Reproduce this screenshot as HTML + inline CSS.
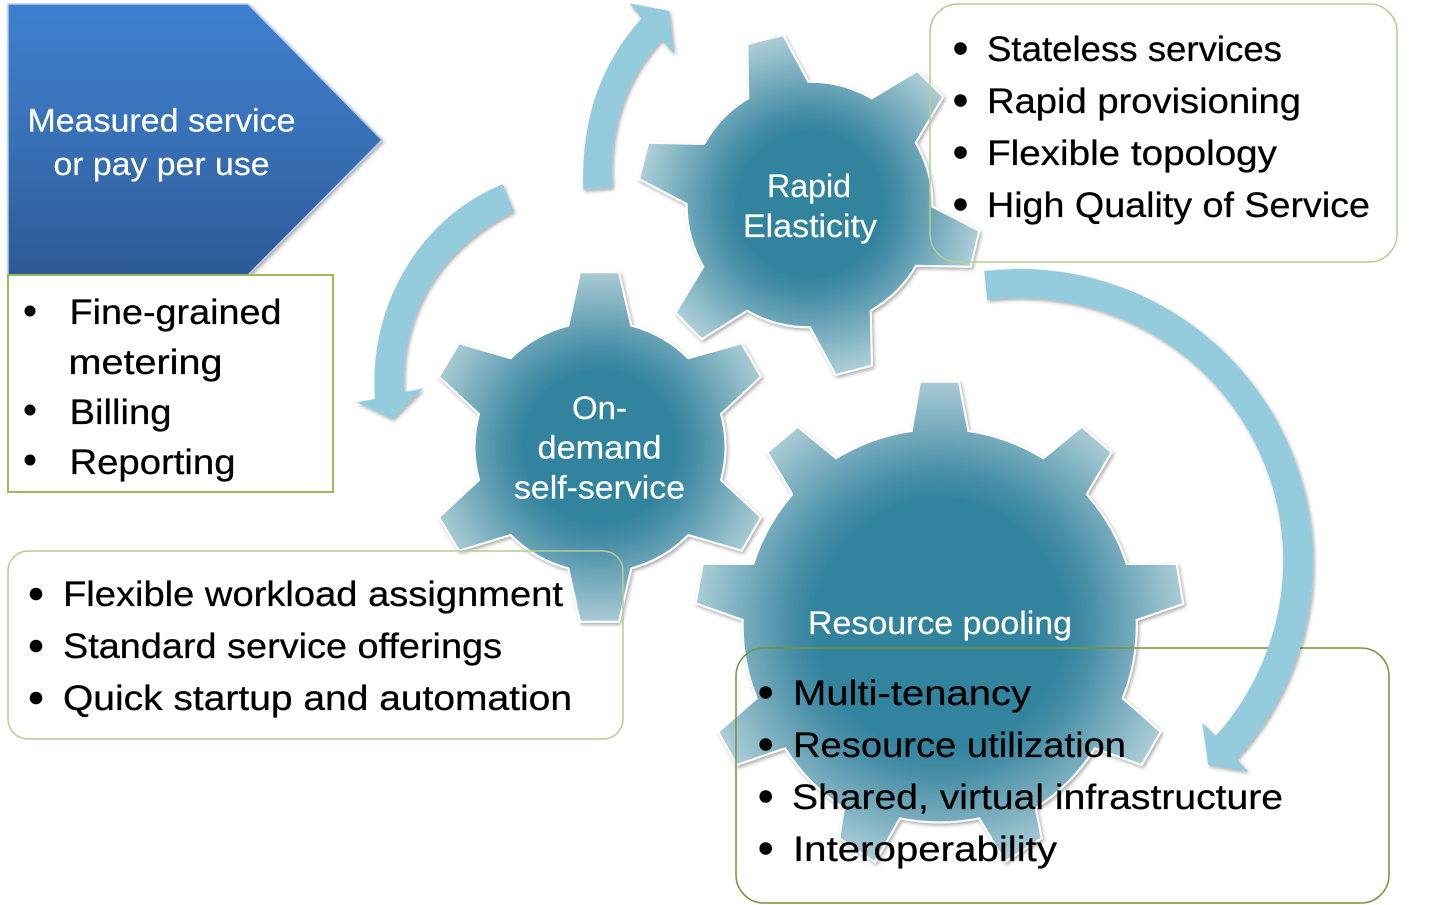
<!DOCTYPE html>
<html lang="en">
<head>
<meta charset="utf-8">
<title>Cloud characteristics diagram</title>
<style>
html,body{margin:0;padding:0;background:#fff;}
svg{display:block;}
text{font-family:"Liberation Sans",sans-serif;}
.w{fill:#fff;font-size:32px;stroke:#fff;stroke-width:.2px;}
.b{fill:#000;font-size:35.5px;stroke:#000;stroke-width:.3px;}
</style>
</head>
<body>
<svg xmlns="http://www.w3.org/2000/svg" width="1433" height="905" viewBox="0 0 1433 905">
<defs>
<filter id="sh" x="-10%" y="-10%" width="120%" height="120%">
<feDropShadow dx="1.5" dy="2" stdDeviation="1.8" flood-color="#000" flood-opacity="0.33"/>
</filter>
<linearGradient id="chev" x1="0" y1="0" x2="0" y2="1">
<stop offset="0" stop-color="#3e7fcf"/>
<stop offset="0.5" stop-color="#3870b6"/>
<stop offset="1" stop-color="#2c5a96"/>
</linearGradient>
<radialGradient id="g1" gradientUnits="userSpaceOnUse" cx="810" cy="204" r="172">
<stop offset="0" stop-color="#33839e"/>
<stop offset="0.42" stop-color="#33839e"/>
<stop offset="0.55" stop-color="#4a90a8"/>
<stop offset="1" stop-color="#afcfd8"/>
</radialGradient>
<radialGradient id="g2" gradientUnits="userSpaceOnUse" cx="600" cy="447" r="180">
<stop offset="0" stop-color="#33839e"/>
<stop offset="0.42" stop-color="#33839e"/>
<stop offset="0.55" stop-color="#4a90a8"/>
<stop offset="1" stop-color="#afcfd8"/>
</radialGradient>
<radialGradient id="g3" gradientUnits="userSpaceOnUse" cx="940" cy="624" r="248">
<stop offset="0" stop-color="#33839e"/>
<stop offset="0.5" stop-color="#33839e"/>
<stop offset="0.62" stop-color="#4a90a8"/>
<stop offset="1" stop-color="#afcfd8"/>
</radialGradient>
</defs>

<rect width="1433" height="905" fill="#fff"/>

<!-- Chevron -->
<path d="M8,4 L248,4 L382,140 L248,275 L8,275 Z" fill="url(#chev)" stroke="#b9cfe6" stroke-width="1.5" filter="url(#sh)"/>
<text class="w" x="27.5" y="131.7" textLength="268" lengthAdjust="spacingAndGlyphs">Measured service</text>
<text class="w" x="53.5" y="175" textLength="216" lengthAdjust="spacingAndGlyphs">or pay per use</text>

<!-- Gears -->
<path d="M747.3,44 L783.3,35 L808.3,81.7 A123,123 0 0 1 871.7,98.3 L917.3,71 L943.3,96.7 L915.7,142.7 A123,123 0 0 1 932.3,206.7 L979.3,230.7 L970.7,266.7 L916,265.7 A123,123 0 0 1 870.7,310.7 L872,365.7 L835.7,375 L810,327.3 A123,123 0 0 1 747.3,310.7 L701.7,339.3 L675.7,312.7 L703.3,266.7 A123,123 0 0 1 686.7,204 L639,179 L648.3,142.7 L704,144 A123,123 0 0 1 748.3,98.3 Z" fill="url(#g1)" stroke="#fff" stroke-width="2" filter="url(#sh)"/>

<path d="M580,272.3 L619,272.3 L631.3,325.7 A125,125 0 0 1 688.3,358.3 L741.7,343.3 L761,376.7 L721,414 A125,125 0 0 1 721,480 L761,517.3 L741.7,550.7 L688.3,535 A125,125 0 0 1 631.3,568.3 L619,621.7 L580,621.7 L568.3,568.3 A125,125 0 0 1 510.7,535 L459,550.7 L439,517.3 L479,480 A125,125 0 0 1 479,414 L439,376.7 L459,343.3 L510.7,358.3 A125,125 0 0 1 568.3,325.7 Z" fill="url(#g2)" stroke="#fff" stroke-width="2" filter="url(#sh)"/>

<path d="M920,381.7 L959,381.7 L968.3,431 A198,198 0 0 1 1043.3,458.3 L1081.7,426.7 L1111.7,452.3 L1086.7,494.3 A198,198 0 0 1 1126.7,564 L1176.7,564 L1183.3,604 L1136.7,620 A198,198 0 0 1 1122.7,698.3 L1160.7,731.7 L1141.7,765 L1095,748.3 A198,198 0 0 1 1035.7,808 L1041.7,838.3 L1005,861.7 L979.3,818.3 A198,198 0 0 1 900,818.3 L875,862.3 L839.3,838.3 L844,808.3 A198,198 0 0 1 785,748.3 L736.7,765 L718.3,731.7 L756.7,698.3 A198,198 0 0 1 742.7,620 L695.7,603.3 L702.7,564 L753.3,564 A198,198 0 0 1 792.3,494.3 L767.3,452.3 L797.7,426.7 L836,458.3 A198,198 0 0 1 911.7,431 Z" fill="url(#g3)" stroke="#fff" stroke-width="2" filter="url(#sh)"/>

<text class="w" x="767" y="197" textLength="84" lengthAdjust="spacingAndGlyphs">Rapid</text>
<text class="w" x="743" y="237" textLength="134" lengthAdjust="spacingAndGlyphs">Elasticity</text>
<text class="w" x="572" y="419" textLength="55" lengthAdjust="spacingAndGlyphs">On-</text>
<text class="w" x="537.5" y="458.3" textLength="124" lengthAdjust="spacingAndGlyphs">demand</text>
<text class="w" x="514" y="498.3" textLength="171" lengthAdjust="spacingAndGlyphs">self-service</text>
<text class="w" x="808" y="634" textLength="264" lengthAdjust="spacingAndGlyphs">Resource pooling</text>

<!-- Boxes -->
<rect x="930" y="4" width="467" height="258" rx="28" ry="28" fill="none" stroke="#b6cd91" stroke-width="1.5"/>
<rect x="8" y="275" width="325" height="217" fill="#fff" stroke="#9bbb59" stroke-width="2"/>
<rect x="8" y="551" width="615" height="188" rx="20" ry="20" fill="none" stroke="#b6cd91" stroke-width="1.5"/>
<rect x="736" y="648" width="653" height="255" rx="28" ry="28" fill="none" stroke="#76923c" stroke-width="1.5"/>

<!-- Arrows -->
<path d="M583.3,190 C581,120 600,65 641.7,18.3 L629.3,3.3 L669.3,11 L674.3,54 L661.7,40 C625,80 609,130 612.7,187.7 Z" fill="#94cbdd" filter="url(#sh)"/>
<path d="M502.7,184.3 C425,215 368,300 375,399 L356.7,402.3 L392.7,419.3 L423.3,388.3 L404.3,392.3 C400,310 445,245 514,211.7 Z" fill="#94cbdd" filter="url(#sh)"/>
<path d="M984.3,271 A294,294 0 0 1 1313.3,560 A294,294 0 0 1 1236.7,759 L1248.3,771.7 L1208.3,765 L1202.3,722.7 L1215.7,736 A264,264 0 0 0 1283.3,560 A264,264 0 0 0 987.3,300 Z" fill="#94cbdd" filter="url(#sh)"/>

<!-- Bullets -->
<g fill="#000">
<circle cx="960.5" cy="48.5" r="6.3"/><circle cx="960.5" cy="100.5" r="6.3"/><circle cx="960.5" cy="152.5" r="6.3"/><circle cx="960.5" cy="204.5" r="6.3"/>
<circle cx="30" cy="311" r="5.5"/><circle cx="30" cy="410" r="5.5"/><circle cx="30" cy="460" r="5.5"/>
<circle cx="36" cy="594" r="6.3"/><circle cx="36" cy="646" r="6.3"/><circle cx="36" cy="698" r="6.3"/>
<circle cx="765.7" cy="692.5" r="6.3"/><circle cx="765.7" cy="744.5" r="6.3"/><circle cx="765.7" cy="796.5" r="6.3"/><circle cx="765.7" cy="848.5" r="6.3"/>
</g>
<text class="b" x="987" y="61" textLength="295" lengthAdjust="spacingAndGlyphs">Stateless services</text>
<text class="b" x="987" y="113" textLength="314" lengthAdjust="spacingAndGlyphs">Rapid provisioning</text>
<text class="b" x="987" y="165" textLength="290" lengthAdjust="spacingAndGlyphs">Flexible topology</text>
<text class="b" x="987" y="217" textLength="383" lengthAdjust="spacingAndGlyphs">High Quality of Service</text>

<text class="b" x="69.5" y="324" textLength="212" lengthAdjust="spacingAndGlyphs">Fine-grained</text>
<text class="b" x="68.5" y="374" textLength="154" lengthAdjust="spacingAndGlyphs">metering</text>
<text class="b" x="69.5" y="424" textLength="102" lengthAdjust="spacingAndGlyphs">Billing</text>
<text class="b" x="69.5" y="474" textLength="166" lengthAdjust="spacingAndGlyphs">Reporting</text>

<text class="b" x="63" y="606" textLength="500" lengthAdjust="spacingAndGlyphs">Flexible workload assignment</text>
<text class="b" x="63" y="658" textLength="439" lengthAdjust="spacingAndGlyphs">Standard service offerings</text>
<text class="b" x="63" y="710" textLength="509" lengthAdjust="spacingAndGlyphs">Quick startup and automation</text>

<text class="b" x="793" y="705" textLength="238" lengthAdjust="spacingAndGlyphs">Multi-tenancy</text>
<text class="b" x="793" y="757" textLength="333" lengthAdjust="spacingAndGlyphs">Resource utilization</text>
<text class="b" x="792" y="809" textLength="491" lengthAdjust="spacingAndGlyphs">Shared, virtual infrastructure</text>
<text class="b" x="793" y="861" textLength="264" lengthAdjust="spacingAndGlyphs">Interoperability</text>
</svg>
</body>
</html>
